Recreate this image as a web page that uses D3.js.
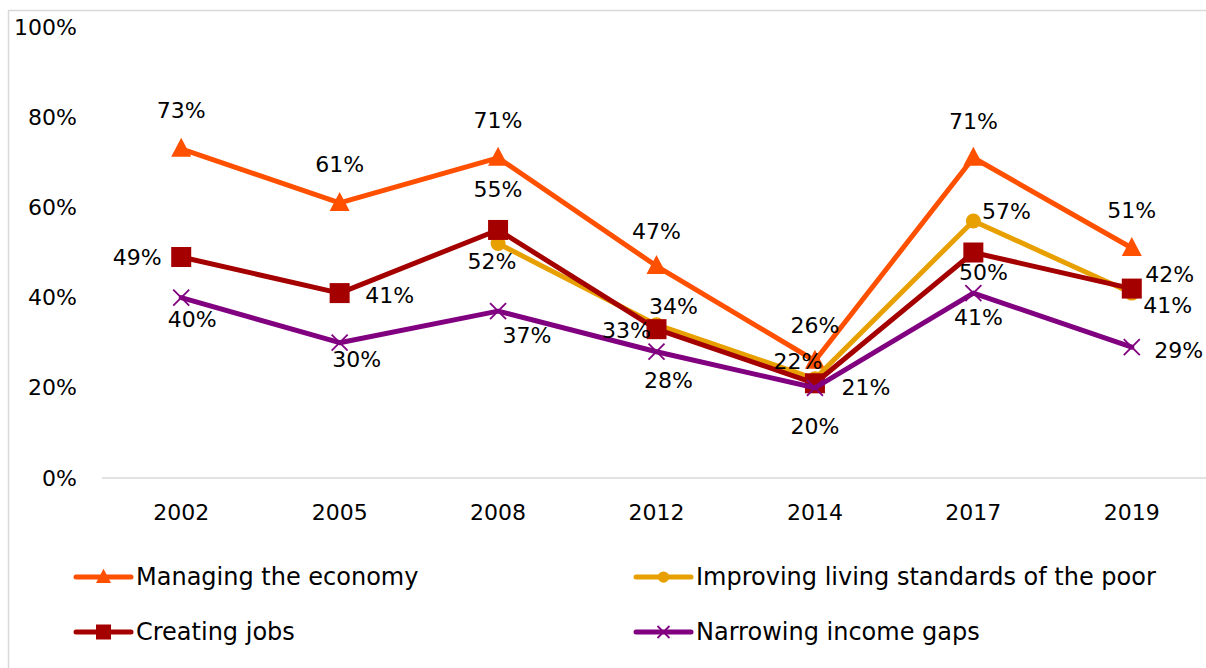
<!DOCTYPE html>
<html>
<head>
<meta charset="utf-8">
<script src="https://cdn.jsdelivr.net/npm/d3@7"></script>
<style>
  html, body { margin: 0; padding: 0; background: #fff; }
  svg { display: block; font-family: "DejaVu Sans", sans-serif; }
</style>
</head>
<body>
<svg id="chart"></svg>
<script>
const years = ["2002", "2005", "2008", "2012", "2014", "2017", "2019"];
const yTicks = [0, 20, 40, 60, 80, 100];

const seriesNames = [
  "Managing the economy",
  "Improving living standards of the poor",
  "Creating jobs",
  "Narrowing income gaps"
];
const managingEconomy = [73, 61, 71, 47, 26, 71, 51];
const livingStandards = [null, null, 52, 34, 22, 57, 41];
const creatingJobs = [49, 41, 55, 33, 21, 50, 42];
const incomeGaps = [40, 30, 37, 28, 20, 41, 29];

// label nudges (px), one per point
const managingLabelOffsets = [[0, -38], [0, -38], [0, -37], [0, -35], [0, -35], [0, -36], [0, -37]];
const livingLabelOffsets = [null, null, [-6, 18], [17, -18], [-17, -17], [33, -9], [36, 12]];
const jobsLabelOffsets = [[-44, 0], [50, 2], [0, -40], [-30, 1], [51, 4], [10, 20], [38, -14]];
const gapsLabelOffsets = [[11, 22], [17, 17], [29, 24], [12, 29], [0, 39], [5, 24], [47, 3]];

const size = { width: 1206, height: 668 };
const margin = { top: 27, bottom: 190, left: 102 };
const COLORS = ["#ff5000", "#e8a000", "#a50000", "#800080"];
const SYMBOLS = ["triangle", "circle", "square", "cross"];

const series = [
  { name: seriesNames[0], values: managingEconomy, offsets: managingLabelOffsets },
  { name: seriesNames[1], values: livingStandards, offsets: livingLabelOffsets },
  { name: seriesNames[2], values: creatingJobs, offsets: jobsLabelOffsets },
  { name: seriesNames[3], values: incomeGaps, offsets: gapsLabelOffsets }
].map((s, i) => ({ ...s, color: COLORS[i], symbol: SYMBOLS[i] }));

const svg = d3.select("#chart").attr("width", size.width).attr("height", size.height);

// outer frame (right/bottom edges fall outside the window)
svg.append("rect")
  .attr("x", 8.5).attr("y", 10.5)
  .attr("width", 1210).attr("height", 680)
  .attr("fill", "none").attr("stroke", "#d9d9d9").attr("stroke-width", 1.5);

const x = d3.scaleBand().domain(years).range([margin.left, 1211]);
const y = d3.scaleLinear().domain([0, 100]).range([size.height - margin.bottom, margin.top]);
const cx = (yr) => x(yr) + x.bandwidth() / 2;

// baseline
svg.append("line")
  .attr("x1", margin.left).attr("x2", size.width)
  .attr("y1", y(0)).attr("y2", y(0))
  .attr("stroke", "#d9d9d9").attr("stroke-width", 1.5);

// y tick labels
svg.append("g")
  .selectAll("text")
  .data(yTicks)
  .join("text")
  .attr("x", 77)
  .attr("y", (d) => y(d))
  .attr("text-anchor", "end")
  .attr("dominant-baseline", "central")
  .attr("font-size", 22)
  .attr("fill", "#000")
  .text((d) => d + "%");

// x tick labels
svg.append("g")
  .selectAll("text")
  .data(years)
  .join("text")
  .attr("x", (d) => cx(d))
  .attr("y", y(0) + 34)
  .attr("text-anchor", "middle")
  .attr("dominant-baseline", "central")
  .attr("font-size", 22)
  .attr("fill", "#000")
  .text((d) => d);

function drawMarker(g, kind, color, px, py, scale = 1) {
  if (kind === "triangle") {
    g.append("path")
      .attr("d", `M${px},${py - 11 * scale} L${px + 10 * scale},${py + 8 * scale} L${px - 10 * scale},${py + 8 * scale} Z`)
      .attr("fill", color);
  } else if (kind === "circle") {
    g.append("circle").attr("cx", px).attr("cy", py).attr("r", 7.5 * scale).attr("fill", color);
  } else if (kind === "square") {
    const s = 20 * scale;
    g.append("rect").attr("x", px - s / 2).attr("y", py - s / 2).attr("width", s).attr("height", s).attr("fill", color);
  } else {
    const r = 8 * scale;
    g.append("path")
      .attr("d", `M${px - r},${py - r} L${px + r},${py + r} M${px + r},${py - r} L${px - r},${py + r}`)
      .attr("stroke", color).attr("stroke-width", 1.8).attr("fill", "none");
  }
}

const line = d3.line()
  .defined((d) => d.v != null)
  .x((d) => cx(d.year))
  .y((d) => y(d.v));

series.forEach((s) => {
  const pts = years.map((yr, i) => ({ year: yr, v: s.values[i] }));
  const g = svg.append("g");
  g.append("path")
    .datum(pts)
    .attr("d", line)
    .attr("fill", "none")
    .attr("stroke", s.color)
    .attr("stroke-width", 5)
    .attr("stroke-linejoin", "round")
    .attr("stroke-linecap", "round");
  pts.filter((d) => d.v != null).forEach((d) => drawMarker(g, s.symbol, s.color, cx(d.year), y(d.v)));
});

// data labels on top
series.forEach((s) => {
  years.forEach((yr, i) => {
    const v = s.values[i];
    if (v == null) return;
    const [dx, dy] = s.offsets[i];
    svg.append("text")
      .attr("x", cx(yr) + dx)
      .attr("y", y(v) + dy)
      .attr("text-anchor", "middle")
      .attr("dominant-baseline", "central")
      .attr("font-size", 22)
      .attr("fill", "#000")
      .text(v + "%");
  });
});

// legend, two rows by two columns
const legendCols = [76, 636];
const legendRows = [577, 632];
series.forEach((s, i) => {
  const lx = legendCols[i % 2];
  const ly = legendRows[Math.floor(i / 2)];
  const g = svg.append("g");
  g.append("line")
    .attr("x1", lx).attr("x2", lx + 55)
    .attr("y1", ly).attr("y2", ly)
    .attr("stroke", s.color).attr("stroke-width", 5).attr("stroke-linecap", "round");
  drawMarker(g, s.symbol, s.color, lx + 27.5, ly, 0.75);
  g.append("text")
    .attr("x", lx + 60)
    .attr("y", ly)
    .attr("dominant-baseline", "central")
    .attr("font-size", 24)
    .attr("fill", "#000")
    .text(s.name);
});
</script>
</body>
</html>
